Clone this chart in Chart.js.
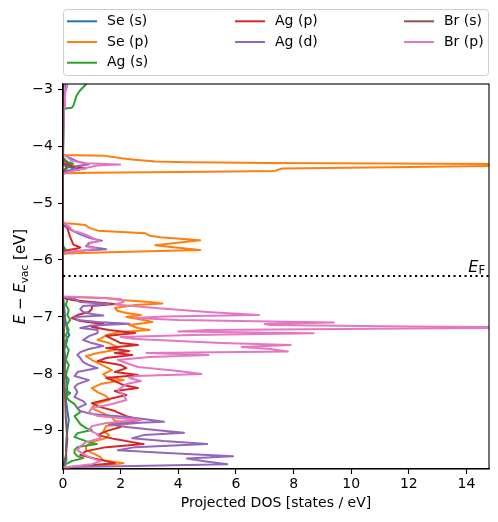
<!DOCTYPE html>
<html>
<head>
<meta charset="utf-8">
<title>Projected DOS</title>
<script src="https://cdn.jsdelivr.net/npm/chart.js@4.4.1/dist/chart.umd.min.js"></script>
<style>
  html, body { margin: 0; padding: 0; background: #fff; }
  #wrap { width: 498px; height: 522px; }
</style>
</head>
<body>
<div id="wrap"><canvas id="dos" width="498" height="522"></canvas></div>
<script>
// axis limits, ticks, Fermi level (eV relative to vacuum)
const xMin = 0, xMax = 14.78;
const yMin = -9.67, yMax = -2.91;
const fermiLevel = -6.28;
const xTicks = [0, 2, 4, 6, 8, 10, 12, 14];
const yTicks = [-9, -8, -7, -6, -5, -4, -3];

const labels = ['Se (s)', 'Se (p)', 'Ag (s)', 'Ag (p)', 'Ag (d)', 'Br (s)', 'Br (p)'];
const colors = ['#1f77b4', '#ff7f0e', '#2ca02c', '#d62728', '#9467bd', '#8c564b', '#e377c2'];

// each series: [energy (eV), projected DOS (states / eV)]
const seS = [
  [-2.88,0],[-4.33,0],[-4.38,0.3],[-4.405,0.6],[-4.43,0.2],[-4.47,0],
  [-5.78,0],[-5.83,0.1],[-5.87,0],
  [-6.65,0],[-6.88,0.05],[-7.05,0.08],[-7.23,0.15],[-7.32,0.22],[-7.41,0.1],[-7.58,0.05],[-7.76,0.08],
  [-7.93,0.06],[-8.11,0.12],[-8.28,0.15],[-8.46,0.1],[-8.64,0.15],[-8.81,0.2],[-8.99,0.15],[-9.16,0.12],
  [-9.34,0.1],[-9.51,0.12],[-9.64,0],[-9.70,0]
];
const seP = [
  [-2.88,0],[-4.14,0],[-4.155,0.07],[-4.172,1.46],[-4.195,1.8],[-4.213,2.04],[-4.235,2.4],[-4.26,3.0],
  [-4.272,3.2],[-4.283,4.3],[-4.29,5.5],[-4.298,7.0],[-4.307,11.3],[-4.313,14.8],[-4.33,22],[-4.348,14.8],
  [-4.37,11.3],[-4.395,7.6],[-4.436,7.35],[-4.45,5.0],[-4.46,3.0],[-4.47,1.0],[-4.476,0.07],[-4.49,0],
  [-5.34,0],[-5.355,0.1],[-5.37,0.45],[-5.385,0.76],[-5.44,0.94],[-5.485,1.22],[-5.53,2.85],[-5.575,3.02],
  [-5.60,3.37],[-5.655,4.76],[-5.70,3.9],[-5.74,3.2],[-5.78,3.9],[-5.823,4.76],[-5.845,3.0],[-5.865,1.6],
  [-5.885,0.1],[-5.90,0],
  [-6.64,0],[-6.65,0.1],[-6.668,1.5],[-6.703,2.0],[-6.738,3.0],[-6.764,3.45],[-6.791,2.5],[-6.844,1.8],
  [-6.896,1.9],[-6.931,2.2],[-6.967,2.7],[-7.002,2.2],[-7.054,2.8],[-7.09,3.1],[-7.142,2.3],[-7.195,2.6],
  [-7.23,3.0],[-7.265,2.0],[-7.318,1.5],[-7.353,1.4],[-7.406,1.2],[-7.459,1.6],[-7.529,1.9],[-7.582,1.8],
  [-7.634,1.2],[-7.687,0.8],[-7.757,1.0],[-7.827,1.3],[-7.88,1.5],[-7.933,1.7],[-8.003,1.4],[-8.056,1.5],
  [-8.109,2.1],[-8.179,1.3],[-8.249,1.0],[-8.319,1.2],[-8.39,1.5],[-8.46,1.6],[-8.53,1.1],[-8.601,1.0],
  [-8.671,1.3],[-8.759,1.7],[-8.829,1.8],[-8.864,2.6],[-8.917,1.5],[-9.005,1.4],[-9.075,1.6],[-9.128,1.5],
  [-9.198,1.0],[-9.268,0.8],[-9.339,0.8],[-9.409,1.1],[-9.462,1.3],[-9.514,1.4],[-9.567,2.1],[-9.602,1.5],
  [-9.637,0.3],[-9.655,0],[-9.70,0]
];
const agS = [
  [-2.88,0.85],[-2.937,0.76],[-3.025,0.59],[-3.112,0.47],[-3.20,0.42],[-3.288,0.36],[-3.329,0.30],[-3.346,0.03],[-3.36,0],
  [-4.20,0],[-4.28,0.15],[-4.31,0.35],[-4.35,0.2],[-4.42,0.1],[-4.47,0],
  [-5.75,0],[-5.82,0.1],[-5.86,0.05],[-5.88,0],
  [-6.64,0],[-6.703,0.15],[-6.791,0.1],[-6.879,0.2],[-6.967,0.15],[-7.054,0.25],[-7.142,0.12],[-7.23,0.2],
  [-7.318,0.1],[-7.406,0.15],[-7.494,0.1],[-7.582,0.2],[-7.669,0.15],[-7.757,0.1],[-7.845,0.2],[-7.933,0.15],
  [-8.021,0.1],[-8.109,0.2],[-8.196,0.15],[-8.284,0.1],[-8.337,0.25],[-8.39,0.1],[-8.46,0.2],[-8.53,0.4],
  [-8.601,0.5],[-8.671,0.6],[-8.741,0.4],[-8.811,0.5],[-8.882,0.6],[-8.952,0.8],[-8.987,1.0],[-9.04,0.5],
  [-9.11,0.4],[-9.18,0.8],[-9.233,1.17],[-9.286,0.5],[-9.339,0.4],[-9.391,0.4],[-9.444,0.5],[-9.479,0.7],
  [-9.532,0.3],[-9.585,0.1],[-9.637,0],[-9.70,0]
];
const agP = [
  [-2.88,0],[-4.30,0],[-4.35,0.3],[-4.39,0.8],[-4.42,0.4],[-4.46,0.1],[-4.48,0],
  [-5.38,0],[-5.44,0.15],[-5.60,0.25],[-5.73,0.36],[-5.78,0.6],[-5.80,0.5],[-5.83,0.15],[-5.86,0],
  [-6.65,0],[-6.703,0.3],[-6.738,1.0],[-6.773,1.8],[-6.808,1.0],[-6.861,1.0],[-6.914,0.9],[-6.967,0.5],
  [-7.019,0.3],[-7.072,0.6],[-7.125,1.4],[-7.177,1.0],[-7.23,1.6],[-7.283,2.5],[-7.336,1.5],[-7.406,1.8],
  [-7.459,2.0],[-7.494,2.6],[-7.546,1.5],[-7.599,2.3],[-7.634,1.8],[-7.669,2.4],[-7.722,1.5],[-7.775,1.2],
  [-7.845,2.0],[-7.898,2.2],[-7.968,1.8],[-8.021,2.6],[-8.073,1.5],[-8.126,1.8],[-8.196,2.1],[-8.249,2.6],
  [-8.302,1.8],[-8.372,2.2],[-8.442,1.6],[-8.513,1.0],[-8.583,1.3],[-8.653,1.8],[-8.741,2.2],[-8.811,2.7],
  [-8.864,1.8],[-8.934,2.0],[-9.005,1.5],[-9.075,1.2],[-9.145,1.8],[-9.233,2.8],[-9.286,1.5],[-9.356,0.8],
  [-9.426,0.6],[-9.497,1.2],[-9.567,1.8],[-9.62,0.5],[-9.655,0],[-9.70,0]
];
const agD = [
  [-2.88,0.1],[-3.0,0.08],[-3.2,0.05],[-3.33,0.03],[-3.35,0],
  [-4.15,0],[-4.20,0.2],[-4.27,0.5],[-4.32,0.9],[-4.35,0.5],[-4.40,0.4],[-4.45,0.2],[-4.48,0],
  [-5.36,0],[-5.40,0.1],[-5.48,0.3],[-5.55,0.6],[-5.62,0.95],[-5.66,1.35],[-5.70,0.9],[-5.76,0.8],
  [-5.81,1.5],[-5.84,0.6],[-5.87,0.1],[-5.89,0],
  [-6.64,0],[-6.65,0.05],[-6.685,0.4],[-6.738,0.6],[-6.773,1.6],[-6.808,0.7],[-6.861,0.6],[-6.914,0.7],
  [-6.949,1.0],[-6.975,1.4],[-7.002,0.4],[-7.054,0.5],[-7.09,1.2],[-7.12,2.3],[-7.151,1.0],[-7.195,0.6],
  [-7.23,1.2],[-7.283,1.2],[-7.336,0.9],[-7.406,0.7],[-7.459,1.0],[-7.511,1.4],[-7.564,0.9],[-7.617,0.6],
  [-7.669,0.5],[-7.722,0.6],[-7.792,0.7],[-7.845,0.9],[-7.898,1.2],[-7.968,0.5],[-8.038,0.4],[-8.109,0.9],
  [-8.179,0.5],[-8.232,0.4],[-8.319,0.5],[-8.407,0.4],[-8.478,0.7],[-8.53,0.8],[-8.601,0.5],[-8.653,0.6],
  [-8.706,1.0],[-8.759,2.2],[-8.794,2.8],[-8.841,3.5],[-8.882,1.6],[-8.934,2.2],[-8.987,3.2],[-9.034,4.2],
  [-9.075,2.8],[-9.128,2.4],[-9.18,3.5],[-9.233,5.0],[-9.286,2.5],[-9.339,1.9],[-9.391,3.6],[-9.444,5.9],
  [-9.484,4.3],[-9.532,4.9],[-9.585,5.7],[-9.62,2.0],[-9.637,0],[-9.70,0]
];
const brS = [
  [-2.88,0],[-4.25,0],[-4.32,0.25],[-4.38,0.1],[-4.45,0],
  [-6.65,0],[-7.05,0.05],[-7.41,0.03],[-8.11,0.05],[-8.81,0.1],[-9.16,0.15],[-9.43,0.1],[-9.64,0],[-9.70,0]
];
const brP = [
  [-2.88,0.15],[-2.95,0.15],[-3.05,0.08],[-3.2,0.06],[-3.3,0.08],[-3.34,0.02],[-3.36,0],
  [-4.15,0],[-4.17,0.1],[-4.26,0.3],[-4.30,0.8],[-4.325,1.98],[-4.34,1.2],[-4.39,0.75],[-4.43,0.4],[-4.47,0.1],[-4.49,0],
  [-5.35,0],[-5.37,0.1],[-5.43,0.25],[-5.49,0.35],[-5.52,0.6],[-5.57,0.85],[-5.63,1.1],[-5.665,1.25],
  [-5.70,0.95],[-5.76,0.85],[-5.80,1.15],[-5.83,0.8],[-5.86,0.15],[-5.88,0],
  [-6.641,0],[-6.659,1.0],[-6.685,2.0],[-6.738,2.1],[-6.782,1.8],[-6.844,3.2],[-6.914,5.0],[-6.967,6.8],
  [-6.993,3.5],[-7.019,2.5],[-7.054,4.0],[-7.098,9.4],[-7.125,7.0],[-7.142,7.2],[-7.168,12],[-7.186,17],
  [-7.204,12],[-7.23,5.0],[-7.256,4.0],[-7.288,8.7],[-7.318,4.5],[-7.353,2.0],[-7.388,2.5],[-7.423,4.0],
  [-7.459,5.5],[-7.494,7.9],[-7.529,6.2],[-7.564,7.2],[-7.608,7.8],[-7.634,2.9],[-7.669,5.05],[-7.704,3.0],
  [-7.757,1.9],[-7.827,2.3],[-7.88,2.6],[-7.95,4.0],[-8.003,4.8],[-8.038,2.5],[-8.073,2.3],[-8.126,2.7],
  [-8.179,2.2],[-8.214,2.1],[-8.284,1.9],[-8.372,2.1],[-8.46,2.2],[-8.53,1.7],[-8.601,1.0],[-8.671,0.9],
  [-8.741,1.2],[-8.811,2.7],[-8.864,1.5],[-8.917,1.0],[-8.987,0.9],[-9.057,1.2],[-9.128,1.3],[-9.198,0.8],
  [-9.268,0.6],[-9.339,0.5],[-9.409,0.7],[-9.479,1.0],[-9.532,1.3],[-9.585,1.0],[-9.62,0.4],[-9.646,0],[-9.70,0]
];
const series = [seS, seP, agS, agP, agD, brS, brP];

const FONT = 'DejaVu Sans';

const datasets = series.map((pts, i) => ({
  label: labels[i],
  data: pts.map(p => ({ x: p[1], y: p[0] })),
  borderColor: colors[i],
  backgroundColor: colors[i],
  borderWidth: 2,
  showLine: true,
  pointRadius: 0,
  pointHoverRadius: 0,
  tension: 0,
  borderJoinStyle: 'round',
  clip: 0,
  order: series.length - i   // later series on top, like matplotlib
}));

// dotted Fermi level
datasets.push({
  label: 'fermi',
  data: [{ x: xMin, y: fermiLevel }, { x: xMax, y: fermiLevel }],
  borderColor: '#000',
  borderWidth: 2,
  borderDash: [2.1, 3.4],
  showLine: true,
  pointRadius: 0,
  clip: 0,
  order: 0,
  hideInLegend: true
});

const extras = {
  id: 'extras',
  afterDatasetsDraw(chart) {
    // axes frame on top of the lines
    const { ctx, chartArea: a } = chart;
    ctx.save();
    ctx.strokeStyle = '#000';
    ctx.lineWidth = 1.1;
    ctx.strokeRect(a.left, a.top, a.right - a.left, a.bottom - a.top);
    ctx.restore();
  },
  afterDraw(chart) {
    const { ctx, chartArea: a, scales } = chart;
    ctx.save();
    ctx.fillStyle = '#000';
    ctx.textAlign = 'left';
    ctx.textBaseline = 'alphabetic';

    // E_F label
    ctx.font = '11.5px ' + FONT;
    const fW = ctx.measureText('F').width;
    ctx.font = 'italic 16px ' + FONT;
    const eW = ctx.measureText('E').width;
    const yF = scales.y.getPixelForValue(fermiLevel) - 4;
    const xR = a.right - 4;
    ctx.fillText('E', xR - fW - eW, yF);
    ctx.font = '11.5px ' + FONT;
    ctx.fillText('F', xR - fW, yF + 2.5);

    // y axis title: E − E_vac [eV]
    const parts = [
      { t: 'E', f: 'italic 15px ' + FONT, dy: 0 },
      { t: ' \u2212 ', f: '15px ' + FONT, dy: 0 },
      { t: 'E', f: 'italic 15px ' + FONT, dy: 0 },
      { t: 'vac', f: '10.5px ' + FONT, dy: 3.2 },
      { t: ' [eV]', f: '15px ' + FONT, dy: 0 }
    ];
    let total = 0;
    parts.forEach(p => { ctx.font = p.f; p.w = ctx.measureText(p.t).width; total += p.w; });
    ctx.translate(24.5, (a.top + a.bottom) / 2);
    ctx.rotate(-Math.PI / 2);
    let x = -total / 2;
    parts.forEach(p => { ctx.font = p.f; ctx.fillText(p.t, x, p.dy); x += p.w; });
    ctx.setTransform(1, 0, 0, 1, 0, 0);

    // legend, 3 columns filled column by column
    const items = chart.data.datasets.filter(d => !d.hideInLegend);
    const nCol = 3;
    const nRow = Math.ceil(items.length / nCol);
    const colX = [4, 172, 341];
    const rowY = [21.3, 42, 62.7];
    const boxTop = 9.5, boxBot = 75.5, r = 3;
    const bl = a.left + 0.5, br = a.right - 0.5;
    ctx.beginPath();
    ctx.moveTo(bl + r, boxTop);
    ctx.arcTo(br, boxTop, br, boxBot, r);
    ctx.arcTo(br, boxBot, bl, boxBot, r);
    ctx.arcTo(bl, boxBot, bl, boxTop, r);
    ctx.arcTo(bl, boxTop, br, boxTop, r);
    ctx.closePath();
    ctx.fillStyle = 'rgba(255,255,255,0.8)';
    ctx.fill();
    ctx.strokeStyle = '#cccccc';
    ctx.lineWidth = 1;
    ctx.stroke();

    const extra = items.length % nCol;
    let idx = 0;
    for (let c = 0; c < nCol; c++) {
      const count = (extra === 0 || c < extra) ? nRow : nRow - 1;
      for (let rI = 0; rI < count; rI++, idx++) {
        const d = items[idx];
        const x0 = a.left + colX[c];
        const y0 = rowY[rI];
        ctx.strokeStyle = d.borderColor;
        ctx.lineWidth = 2;
        ctx.beginPath();
        ctx.moveTo(x0, y0);
        ctx.lineTo(x0 + 30, y0);
        ctx.stroke();
        ctx.fillStyle = '#000';
        ctx.font = '14px ' + FONT;
        ctx.textBaseline = 'middle';
        ctx.fillText(d.label, x0 + 40, y0);
      }
    }
    ctx.restore();
  }
};

const minusFmt = v => (v < 0 ? '\u2212' + Math.abs(v) : String(v));

new Chart(document.getElementById('dos').getContext('2d'), {
  type: 'scatter',
  data: { datasets: datasets },
  options: {
    responsive: false,
    animation: false,
    devicePixelRatio: 1,
    events: [],
    layout: { padding: { top: 84, right: 9, bottom: 0, left: 0 } },
    plugins: { legend: { display: false }, tooltip: { enabled: false } },
    scales: {
      x: {
        type: 'linear',
        min: xMin,
        max: xMax,
        afterBuildTicks: s => { s.ticks = xTicks.map(v => ({ value: v })); },
        afterFit: s => { s.height = 53; },
        ticks: { font: { family: FONT, size: 14 }, color: '#000', padding: 2, callback: minusFmt },
        grid: { drawOnChartArea: false, tickLength: 5, tickColor: '#000', tickWidth: 1.1 },
        border: { color: '#000', width: 1.1 },
        title: {
          display: true,
          text: 'Projected DOS [states / eV]',
          font: { family: FONT, size: 14 },
          color: '#000',
          padding: { top: 0, bottom: 10 }
        }
      },
      y: {
        type: 'linear',
        min: yMin,
        max: yMax,
        afterBuildTicks: s => { s.ticks = yTicks.map(v => ({ value: v })); },
        afterFit: s => { s.width = 63; },
        ticks: { font: { family: FONT, size: 14 }, color: '#000', padding: 5, callback: minusFmt },
        grid: { drawOnChartArea: false, tickLength: 5, tickColor: '#000', tickWidth: 1.1 },
        border: { color: '#000', width: 1.1 }
      }
    }
  },
  plugins: [extras]
});
</script>
</body>
</html>
